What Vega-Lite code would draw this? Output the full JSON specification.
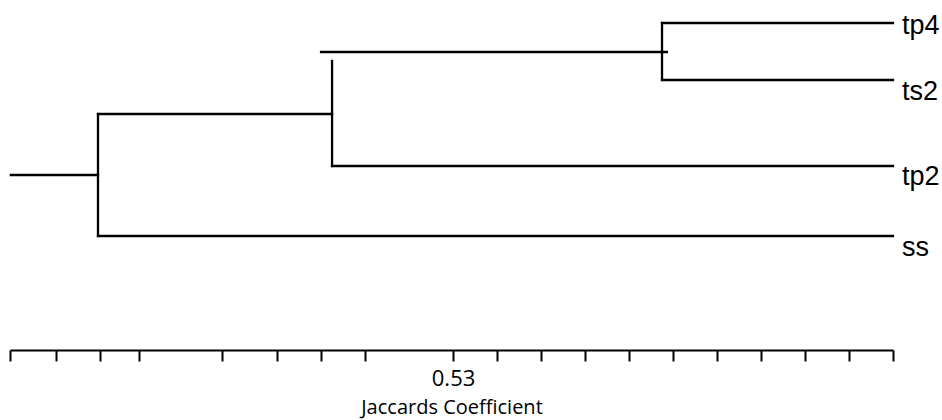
{
  "$schema": "https://vega.github.io/schema/vega-lite/v6.json",
  "autosize": "none",
  "width": 883,
  "height": 350,
  "padding": {"left": 10, "top": 0, "right": 49, "bottom": 70},
  "background": "white",
  "config": {"view": {"stroke": null}},
  "datasets": {
    "segments": [
      {"x1": 0.4295, "x2": 0.4493, "y1": 17.5, "y2": 17.5},
      {"x1": 0.4493, "x2": 0.4493, "y1": 11.4, "y2": 23.6},
      {"x1": 0.4493, "x2": 0.63, "y1": 23.6, "y2": 23.6},
      {"x1": 0.4493, "x2": 0.5025, "y1": 11.4, "y2": 11.4},
      {"x1": 0.5025, "x2": 0.5025, "y1": 6.1, "y2": 16.6},
      {"x1": 0.5025, "x2": 0.63, "y1": 16.6, "y2": 16.6},
      {"x1": 0.5, "x2": 0.5786, "y1": 5.2, "y2": 5.2},
      {"x1": 0.5775, "x2": 0.5775, "y1": 2.3, "y2": 8.0},
      {"x1": 0.5775, "x2": 0.63, "y1": 2.3, "y2": 2.3},
      {"x1": 0.5775, "x2": 0.63, "y1": 8.0, "y2": 8.0}
    ],
    "leaves": [
      {"label": "tp4", "x": 0.63, "y": 3.35},
      {"label": "ts2", "x": 0.63, "y": 10.0},
      {"label": "tp2", "x": 0.63, "y": 18.5},
      {"label": "ss", "x": 0.63, "y": 25.6}
    ]
  },
  "layer": [
    {
      "data": {"name": "segments"},
      "mark": {"type": "rule", "color": "black", "strokeWidth": 2.3, "strokeCap": "square"},
      "encoding": {
        "x": {
          "field": "x1",
          "type": "quantitative",
          "scale": {"domain": [0.4293, 0.63], "nice": false, "zero": false},
          "axis": {
            "orient": "bottom",
            "title": "Jaccards Coefficient",
            "values": [0.4293, 0.4398, 0.4498, 0.4586, 0.4775, 0.49, 0.5, 0.51, 0.53, 0.54, 0.55, 0.56, 0.57, 0.58, 0.59, 0.6, 0.61, 0.62, 0.63],
            "labelExpr": "datum.value === 0.53 ? '0.53' : ''",
            "grid": false,
            "domainColor": "black",
            "domainWidth": 2,
            "tickColor": "black",
            "tickWidth": 2,
            "tickSize": 11,
            "labelFont": "Open Sans",
            "labelFontSize": 22,
            "labelColor": "black",
            "labelPadding": 7,
            "labelFlush": false,
            "labelOverlap": false,
            "titleFont": "Open Sans",
            "titleFontSize": 20,
            "titleFontWeight": "normal",
            "titleColor": "black",
            "titlePadding": 8
          }
        },
        "x2": {"field": "x2"},
        "y": {
          "field": "y1",
          "type": "quantitative",
          "scale": {"domain": [0, 35], "reverse": true, "nice": false, "zero": false},
          "axis": null
        },
        "y2": {"field": "y2"}
      }
    },
    {
      "data": {"name": "leaves"},
      "mark": {"type": "text", "align": "left", "baseline": "alphabetic", "dx": 9, "font": "Liberation Sans", "fontSize": 27, "color": "black"},
      "encoding": {
        "x": {"field": "x", "type": "quantitative"},
        "y": {"field": "y", "type": "quantitative"},
        "text": {"field": "label"}
      }
    }
  ]
}
